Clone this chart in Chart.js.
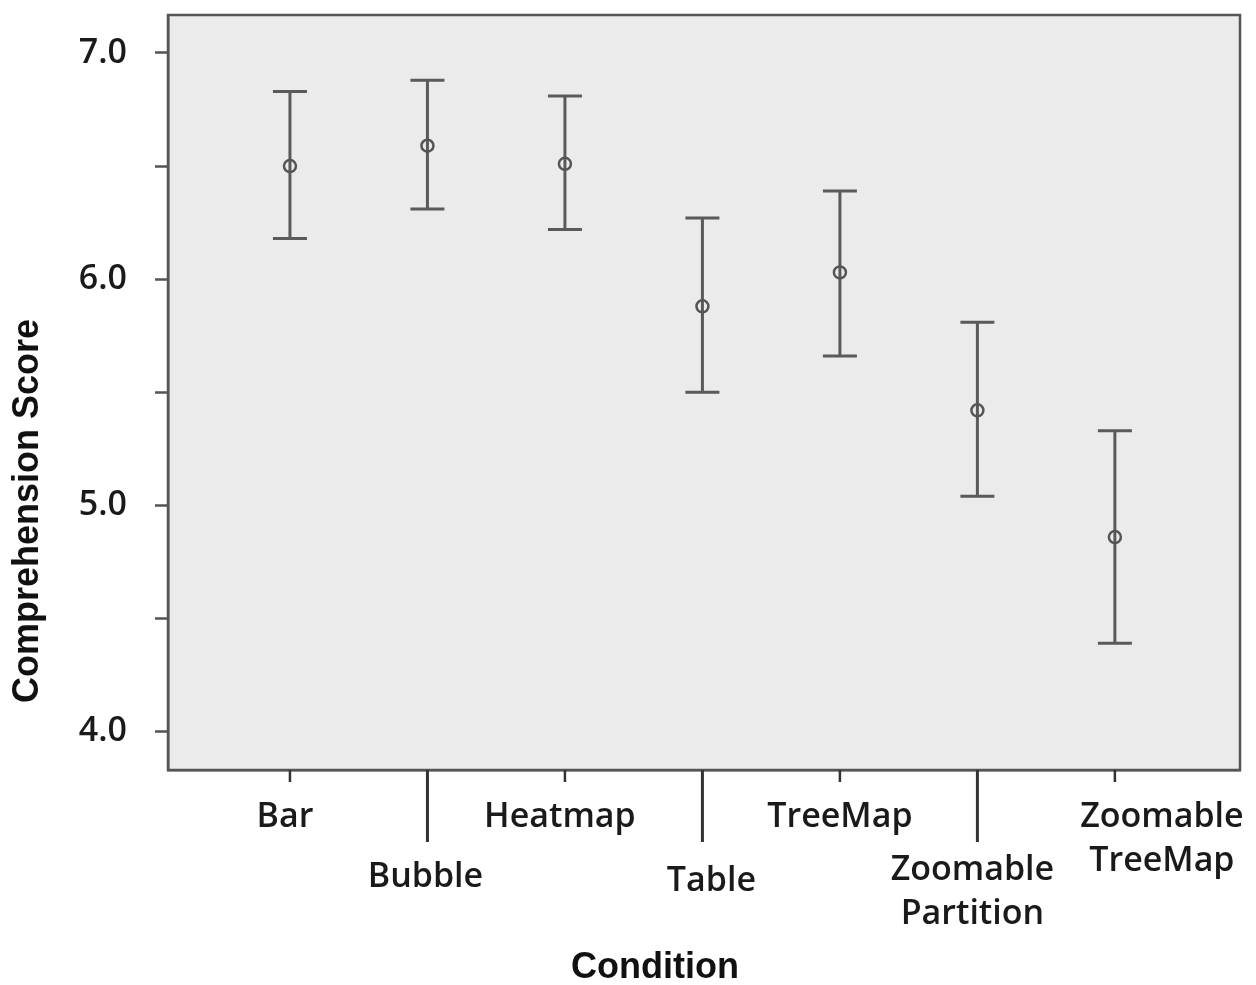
<!DOCTYPE html>
<html>
<head>
<meta charset="utf-8">
<script src="https://cdn.jsdelivr.net/npm/chart.js@4"></script>
<style>
    html, body { margin: 0; padding: 0; background: #ffffff; }
    #wrap { width: 1256px; height: 985px; }
</style>
</head>
<body>
<div id="wrap"><canvas id="chart" width="1256" height="985"></canvas></div>
<script>
var conditions = ["Bar", "Bubble", "Heatmap", "Table", "TreeMap", "Zoomable\nPartition", "Zoomable\nTreeMap"];
var means = [6.50, 6.59, 6.51, 5.88, 6.03, 5.42, 4.86];
var upper = [6.83, 6.88, 6.81, 6.27, 6.39, 5.81, 5.33];
var lower = [6.18, 6.31, 6.22, 5.50, 5.66, 5.04, 4.39];
var yTicks = [4.0, 4.5, 5.0, 5.5, 6.0, 6.5, 7.0];
var xTitle = "Condition";
var yTitle = "Comprehension Score";

var AXIS_COLOR = "#555555";
var LABEL_FONT = "600 34px 'Open Sans', sans-serif";
var TITLE_FONT = "bold 36px 'Liberation Sans', Arial, sans-serif";

// label placement under the x axis: row 1 gets a long tick; small nudges as in the original figure
var labelLayout = [
    { row: 0, dx: -5, y: 817 },
    { row: 1, dx: -2, y: 877 },
    { row: 0, dx: -5, y: 817 },
    { row: 1, dx: 9, y: 881 },
    { row: 0, dx: 0, y: 817 },
    { row: 1, dx: -5, y: 870 },
    { row: 0, dx: 47, y: 817 }
];

var plotBox = {
    id: "plotBox",
    beforeDraw: function (chart) {
        var a = chart.chartArea, ctx = chart.ctx;
        ctx.save();
        ctx.fillStyle = "#ebebeb";
        ctx.fillRect(a.left, a.top, a.right - a.left, a.bottom - a.top);
        ctx.restore();
    },
    afterDraw: function (chart) {
        var a = chart.chartArea, ctx = chart.ctx;
        ctx.save();
        ctx.strokeStyle = AXIS_COLOR;
        ctx.lineWidth = 2.5;
        ctx.strokeRect(a.left, a.top, a.right - a.left, a.bottom - a.top);
        ctx.restore();
    }
};

var errorBars = {
    id: "errorBars",
    beforeDatasetsDraw: function (chart) {
        var ctx = chart.ctx, xs = chart.scales.x, ys = chart.scales.y;
        ctx.save();
        ctx.strokeStyle = "#5a5a5a";
        ctx.lineWidth = 3;
        for (var i = 0; i < means.length; i++) {
            var px = xs.getPixelForValue(i);
            var top = ys.getPixelForValue(upper[i]);
            var bot = ys.getPixelForValue(lower[i]);
            ctx.beginPath();
            ctx.moveTo(px, top); ctx.lineTo(px, bot);
            ctx.moveTo(px - 17, top); ctx.lineTo(px + 17, top);
            ctx.moveTo(px - 17, bot); ctx.lineTo(px + 17, bot);
            ctx.stroke();
        }
        ctx.restore();
    }
};

var axisText = {
    id: "axisText",
    afterDraw: function (chart) {
        var ctx = chart.ctx, xs = chart.scales.x, a = chart.chartArea;
        ctx.save();
        ctx.strokeStyle = "#333333";
        ctx.fillStyle = "#1a1a1a";
        ctx.font = LABEL_FONT;
        ctx.textAlign = "center";
        ctx.textBaseline = "middle";
        for (var i = 0; i < conditions.length; i++) {
            var px = xs.getPixelForValue(i);
            var L = labelLayout[i];
            ctx.lineWidth = L.row ? 3 : 2.5;
            ctx.beginPath();
            ctx.moveTo(px, a.bottom);
            ctx.lineTo(px, a.bottom + (L.row ? 72 : 12));
            ctx.stroke();
            conditions[i].split("\n").forEach(function (t, k) {
                ctx.fillText(t, px + L.dx, L.y + k * 44);
            });
        }
        // axis titles
        ctx.fillStyle = "#111111";
        ctx.font = TITLE_FONT;
        ctx.fillText(xTitle, 655, 968);
        ctx.translate(28, 511);
        ctx.rotate(-Math.PI / 2);
        ctx.fillText(yTitle, 0, 0);
        ctx.restore();
    }
};

new Chart(document.getElementById("chart"), {
    type: "scatter",
    data: {
        datasets: [{
            label: yTitle,
            data: means.map(function (m, i) { return { x: i, y: m }; }),
            pointStyle: "circle",
            pointRadius: 6,
            pointHoverRadius: 6,
            pointBackgroundColor: "rgba(0,0,0,0)",
            pointBorderColor: "#555555",
            pointBorderWidth: 2.5
        }]
    },
    options: {
        responsive: false,
        animation: false,
        layout: { padding: { top: 15, right: 16, left: 0, bottom: 0 } },
        plugins: {
            legend: { display: false },
            tooltip: { enabled: false }
        },
        scales: {
            x: {
                type: "linear",
                min: -0.887,
                max: 6.91,
                afterFit: function (s) { s.height = 215; s.paddingLeft = 0; s.paddingRight = 0; },
                grid: { display: false },
                border: { display: true, color: AXIS_COLOR, width: 2.5 },
                ticks: { display: false }
            },
            y: {
                min: 3.83,
                max: 7.168,
                afterFit: function (s) { s.width = 168; s.paddingTop = 0; s.paddingBottom = 0; },
                afterBuildTicks: function (s) {
                    s.ticks = yTicks.map(function (v) { return { value: v }; });
                },
                grid: {
                    drawOnChartArea: false,
                    drawTicks: true,
                    tickLength: 13,
                    tickWidth: 2.5,
                    tickColor: AXIS_COLOR
                },
                border: { display: true, color: AXIS_COLOR, width: 2.5 },
                ticks: {
                    padding: 28,
                    color: "#1a1a1a",
                    font: { family: "'Open Sans', sans-serif", size: 34, weight: "600" },
                    callback: function (v) { return v % 1 === 0 ? v.toFixed(1) : ""; }
                }
            }
        }
    },
    plugins: [plotBox, errorBars, axisText]
});
</script>
</body>
</html>
